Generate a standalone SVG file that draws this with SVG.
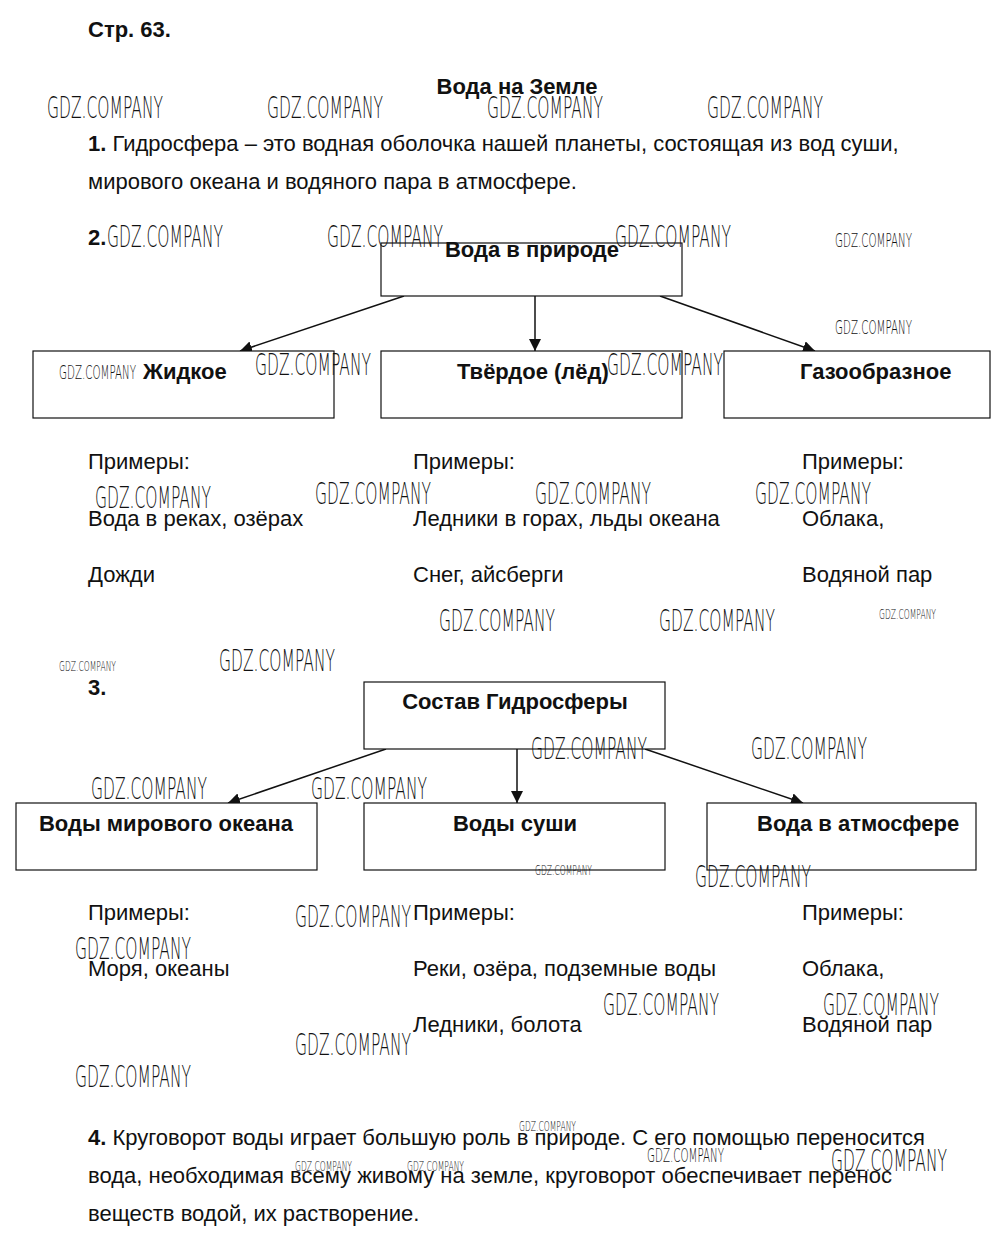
<svg xmlns="http://www.w3.org/2000/svg" width="998" height="1245" viewBox="0 0 998 1245">
<style>
.t{font-family:"Liberation Sans",Arial,sans-serif;font-size:22px;fill:#111}
.b{font-weight:bold}
.box{fill:#fff;stroke:#111;stroke-width:1.2}
.ln{stroke:#111;stroke-width:1.5;fill:none}
.wm{font-family:"DejaVu Sans ExtraLight","DejaVu Sans","Liberation Sans",sans-serif;font-weight:200;fill:#111}
.wl{font-size:31px}
.wmm{font-size:19px}
.ws{font-size:14px}
</style>
<defs>
<marker id="ah" viewBox="0 0 10 10" refX="10" refY="5" markerWidth="12" markerHeight="12" markerUnits="userSpaceOnUse" orient="auto">
<path d="M0,0 L10,5 L0,10 z" fill="#111"/>
</marker>
</defs>
<rect width="998" height="1245" fill="#fff"/>

<g id="header">
<text class="t b" x="88" y="37">Стр. 63.</text>
<text class="t b" x="517" y="94" text-anchor="middle">Вода на Земле</text>
<text class="t" x="88" y="151"><tspan class="b">1.</tspan> Гидросфера – это водная оболочка нашей планеты, состоящая из вод суши,</text>
<text class="t" x="88" y="189">мирового океана и водяного пара в атмосфере.</text>
<text class="t b" x="88" y="245">2.</text>
</g>

<g id="connectors">
<line class="ln" x1="404" y1="296" x2="240" y2="351" marker-end="url(#ah)"/>
<line class="ln" x1="535" y1="296" x2="535" y2="351" marker-end="url(#ah)"/>
<line class="ln" x1="660" y1="296" x2="815" y2="351" marker-end="url(#ah)"/>
<line class="ln" x1="386" y1="749" x2="228" y2="803" marker-end="url(#ah)"/>
<line class="ln" x1="517" y1="749" x2="517" y2="803" marker-end="url(#ah)"/>
<line class="ln" x1="645" y1="749" x2="803" y2="803" marker-end="url(#ah)"/>
</g>

<g id="n-voda-v-prirode"><rect class="box" x="381" y="243" width="301" height="53"/><text class="t b" x="532" y="257" text-anchor="middle">Вода в природе</text></g>
<g id="n-zhidkoe"><rect class="box" x="33" y="351" width="301" height="67"/><text class="t b" x="143" y="379">Жидкое</text></g>
<g id="n-tverdoe"><rect class="box" x="381" y="351" width="301" height="67"/><text class="t b" x="457" y="379">Твёрдое (лёд)</text></g>
<g id="n-gaz"><rect class="box" x="724" y="351" width="266" height="67"/><text class="t b" x="800" y="379">Газообразное</text></g>

<g id="examples-2">
<text class="t" x="88" y="469">Примеры:</text>
<text class="t" x="88" y="526">Вода в реках, озёрах</text>
<text class="t" x="88" y="582">Дожди</text>
<text class="t" x="413" y="469">Примеры:</text>
<text class="t" x="413" y="526">Ледники в горах, льды океана</text>
<text class="t" x="413" y="582">Снег, айсберги</text>
<text class="t" x="802" y="469">Примеры:</text>
<text class="t" x="802" y="526">Облака,</text>
<text class="t" x="802" y="582">Водяной пар</text>
</g>

<text class="t b" x="88" y="695">3.</text>

<g id="n-sostav"><rect class="box" x="364" y="682" width="301" height="67"/><text class="t b" x="515" y="709" text-anchor="middle">Состав Гидросферы</text></g>
<g id="n-okean"><rect class="box" x="16" y="803" width="301" height="67"/><text class="t b" x="166" y="831" text-anchor="middle">Воды мирового океана</text></g>
<g id="n-sushi"><rect class="box" x="364" y="803" width="301" height="67"/><text class="t b" x="515" y="831" text-anchor="middle">Воды суши</text></g>
<g id="n-atm"><rect class="box" x="707" y="803" width="269" height="67"/><text class="t b" x="757" y="831">Вода в атмосфере</text></g>

<g id="examples-3">
<text class="t" x="88" y="920">Примеры:</text>
<text class="t" x="88" y="976">Моря, океаны</text>
<text class="t" x="413" y="920">Примеры:</text>
<text class="t" x="413" y="976">Реки, озёра, подземные воды</text>
<text class="t" x="413" y="1032">Ледники, болота</text>
<text class="t" x="802" y="920">Примеры:</text>
<text class="t" x="802" y="976">Облака,</text>
<text class="t" x="802" y="1032">Водяной пар</text>
</g>

<g id="section4">
<text class="t" x="88" y="1145"><tspan class="b">4.</tspan> Круговорот воды играет большую роль в природе. С его помощью переносится</text>
<text class="t" x="88" y="1183">вода, необходимая всему живому на земле, круговорот обеспечивает перенос</text>
<text class="t" x="88" y="1221">веществ водой, их растворение.</text>
</g>

<g id="watermarks">
<text class="wm wl" x="47" y="118" textLength="116" lengthAdjust="spacingAndGlyphs">GDZ.COMPANY</text>
<text class="wm wl" x="267" y="118" textLength="116" lengthAdjust="spacingAndGlyphs">GDZ.COMPANY</text>
<text class="wm wl" x="487" y="118" textLength="116" lengthAdjust="spacingAndGlyphs">GDZ.COMPANY</text>
<text class="wm wl" x="707" y="118" textLength="116" lengthAdjust="spacingAndGlyphs">GDZ.COMPANY</text>
<text class="wm wl" x="107" y="247" textLength="116" lengthAdjust="spacingAndGlyphs">GDZ.COMPANY</text>
<text class="wm wl" x="327" y="247" textLength="116" lengthAdjust="spacingAndGlyphs">GDZ.COMPANY</text>
<text class="wm wl" x="615" y="247" textLength="116" lengthAdjust="spacingAndGlyphs">GDZ.COMPANY</text>
<text class="wm wmm" x="835" y="247" textLength="77" lengthAdjust="spacingAndGlyphs">GDZ.COMPANY</text>
<text class="wm wmm" x="835" y="334" textLength="77" lengthAdjust="spacingAndGlyphs">GDZ.COMPANY</text>
<text class="wm wmm" x="59" y="379" textLength="77" lengthAdjust="spacingAndGlyphs">GDZ.COMPANY</text>
<text class="wm wl" x="255" y="375" textLength="116" lengthAdjust="spacingAndGlyphs">GDZ.COMPANY</text>
<text class="wm wl" x="607" y="375" textLength="116" lengthAdjust="spacingAndGlyphs">GDZ.COMPANY</text>
<text class="wm wl" x="95" y="508" textLength="116" lengthAdjust="spacingAndGlyphs">GDZ.COMPANY</text>
<text class="wm wl" x="315" y="504" textLength="116" lengthAdjust="spacingAndGlyphs">GDZ.COMPANY</text>
<text class="wm wl" x="535" y="504" textLength="116" lengthAdjust="spacingAndGlyphs">GDZ.COMPANY</text>
<text class="wm wl" x="755" y="504" textLength="116" lengthAdjust="spacingAndGlyphs">GDZ.COMPANY</text>
<text class="wm wl" x="439" y="631" textLength="116" lengthAdjust="spacingAndGlyphs">GDZ.COMPANY</text>
<text class="wm wl" x="659" y="631" textLength="116" lengthAdjust="spacingAndGlyphs">GDZ.COMPANY</text>
<text class="wm ws" x="879" y="619" textLength="57" lengthAdjust="spacingAndGlyphs">GDZ.COMPANY</text>
<text class="wm ws" x="59" y="671" textLength="57" lengthAdjust="spacingAndGlyphs">GDZ.COMPANY</text>
<text class="wm wl" x="219" y="671" textLength="116" lengthAdjust="spacingAndGlyphs">GDZ.COMPANY</text>
<text class="wm wl" x="531" y="759" textLength="116" lengthAdjust="spacingAndGlyphs">GDZ.COMPANY</text>
<text class="wm wl" x="751" y="759" textLength="116" lengthAdjust="spacingAndGlyphs">GDZ.COMPANY</text>
<text class="wm wl" x="91" y="799" textLength="116" lengthAdjust="spacingAndGlyphs">GDZ.COMPANY</text>
<text class="wm wl" x="311" y="799" textLength="116" lengthAdjust="spacingAndGlyphs">GDZ.COMPANY</text>
<text class="wm ws" x="535" y="875" textLength="57" lengthAdjust="spacingAndGlyphs">GDZ.COMPANY</text>
<text class="wm wl" x="695" y="887" textLength="116" lengthAdjust="spacingAndGlyphs">GDZ.COMPANY</text>
<text class="wm wl" x="295" y="927" textLength="116" lengthAdjust="spacingAndGlyphs">GDZ.COMPANY</text>
<text class="wm wl" x="75" y="959" textLength="116" lengthAdjust="spacingAndGlyphs">GDZ.COMPANY</text>
<text class="wm wl" x="603" y="1015" textLength="116" lengthAdjust="spacingAndGlyphs">GDZ.COMPANY</text>
<text class="wm wl" x="823" y="1015" textLength="116" lengthAdjust="spacingAndGlyphs">GDZ.COMPANY</text>
<text class="wm wl" x="295" y="1055" textLength="116" lengthAdjust="spacingAndGlyphs">GDZ.COMPANY</text>
<text class="wm wl" x="75" y="1087" textLength="116" lengthAdjust="spacingAndGlyphs">GDZ.COMPANY</text>
<text class="wm ws" x="519" y="1131" textLength="57" lengthAdjust="spacingAndGlyphs">GDZ.COMPANY</text>
<text class="wm ws" x="295" y="1171" textLength="57" lengthAdjust="spacingAndGlyphs">GDZ.COMPANY</text>
<text class="wm ws" x="407" y="1171" textLength="57" lengthAdjust="spacingAndGlyphs">GDZ.COMPANY</text>
<text class="wm wmm" x="647" y="1162" textLength="77" lengthAdjust="spacingAndGlyphs">GDZ.COMPANY</text>
<text class="wm wl" x="831" y="1171" textLength="116" lengthAdjust="spacingAndGlyphs">GDZ.COMPANY</text>
</g>
</svg>
